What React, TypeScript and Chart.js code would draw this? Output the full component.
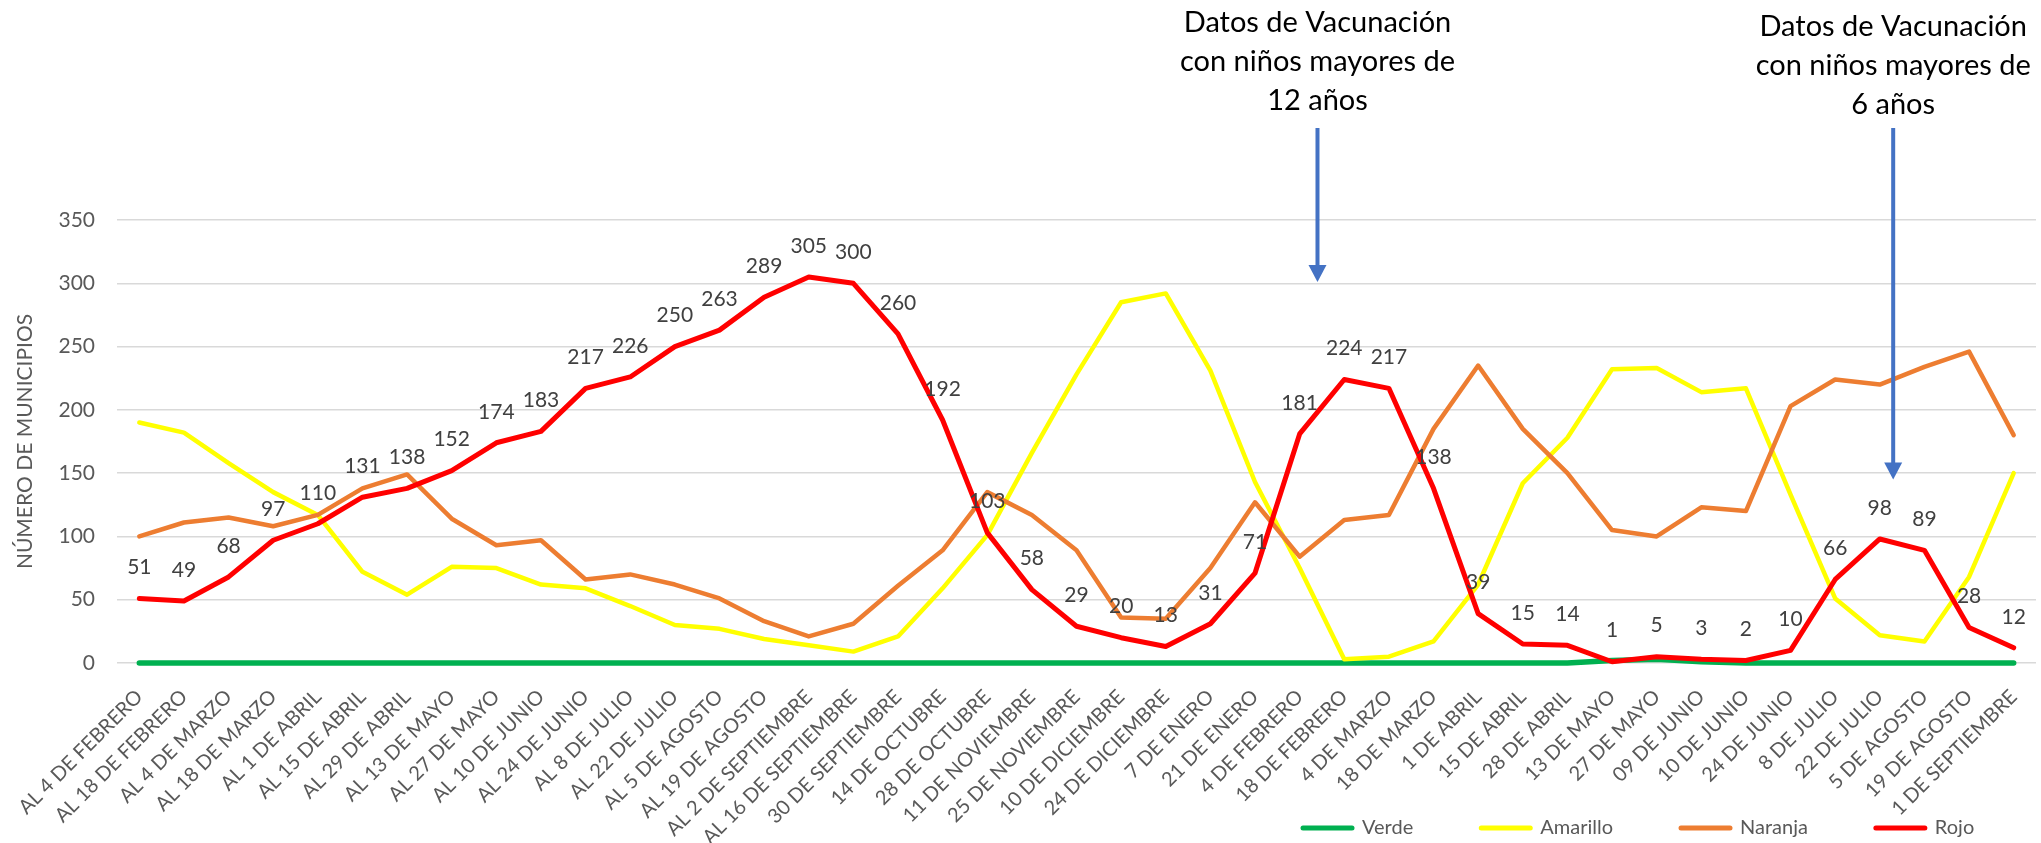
import React, { useEffect, useRef } from 'react';
import { Chart, registerables } from 'chart.js';

Chart.register(...registerables);
Chart.defaults.font.family = 'Lato';

const categories = [
  'AL 4 DE FEBRERO', 'AL 18 DE FEBRERO', 'AL 4 DE MARZO', 'AL 18 DE MARZO', 'AL 1 DE ABRIL',
  'AL 15 DE ABRIL', 'AL 29 DE ABRIL', 'AL 13 DE MAYO', 'AL 27 DE MAYO', 'AL 10 DE JUNIO',
  'AL 24 DE JUNIO', 'AL 8 DE JULIO', 'AL 22 DE JULIO', 'AL 5 DE AGOSTO', 'AL 19 DE AGOSTO',
  'AL 2 DE SEPTIEMBRE', 'AL 16 DE SEPTIEMBRE', '30 DE SEPTIEMBRE', '14 DE OCTUBRE', '28 DE OCTUBRE',
  '11 DE NOVIEMBRE', '25 DE NOVIEMBRE', '10 DE DICIEMBRE', '24 DE DICIEMBRE', '7 DE ENERO',
  '21 DE ENERO', '4 DE FEBRERO', '18 DE FEBRERO', '4 DE MARZO', '18 DE MARZO',
  '1 DE ABRIL', '15 DE ABRIL', '28 DE ABRIL', '13 DE MAYO', '27 DE MAYO',
  '09 DE JUNIO', '10 DE JUNIO', '24 DE JUNIO', '8 DE JULIO', '22 DE JULIO',
  '5 DE AGOSTO', '19 DE AGOSTO', '1 DE SEPTIEMBRE',
];

const verde = [
  0, 0, 0, 0, 0, 0, 0, 0, 0, 0,
  0, 0, 0, 0, 0, 0, 0, 0, 0, 0,
  0, 0, 0, 0, 0, 0, 0, 0, 0, 0,
  0, 0, 0, 2, 3, 1, 0, 0, 0, 0,
  0, 0, 0,
];

const amarillo = [
  190, 182, 158, 135, 117, 72, 54, 76, 75, 62,
  59, 45, 30, 27, 19, 14, 9, 21, 59, 101,
  166, 228, 285, 292, 231, 143, 75, 3, 5, 17,
  62, 142, 178, 232, 233, 214, 217, 133, 51, 22,
  17, 68, 150,
];

const naranja = [
  100, 111, 115, 108, 117, 138, 149, 114, 93, 97,
  66, 70, 62, 51, 33, 21, 31, 61, 89, 135,
  117, 89, 36, 35, 75, 127, 84, 113, 117, 185,
  235, 185, 150, 105, 100, 123, 120, 203, 224, 220,
  234, 246, 180,
];

const rojo = [
  51, 49, 68, 97, 110, 131, 138, 152, 174, 183,
  217, 226, 250, 263, 289, 305, 300, 260, 192, 103,
  58, 29, 20, 13, 31, 71, 181, 224, 217, 138,
  39, 15, 14, 1, 5, 3, 2, 10, 66, 98,
  89, 28, 12,
];

const seriesNames = ['Verde', 'Amarillo', 'Naranja', 'Rojo'];
const seriesColors = ['#00B050', '#FFFF00', '#ED7D31', '#FF0000'];

const yAxisTitle = 'NÚMERO DE MUNICIPIOS';

// annotation callouts: category position (fractional index) and arrow tip value
const note12Lines = ['Datos de Vacunación', 'con niños mayores de', '12 años'];
const note6Lines = ['Datos de Vacunación', 'con niños mayores de', '6 años'];
const noteAt = [26.4, 39.3];
const noteTipValue = [301, 145];

const redLabelsPlugin = {
  id: 'redLabels',
  afterDatasetsDraw(chart: any) {
    const idx = chart.data.datasets.findIndex((d: any) => d.label === 'Rojo');
    if (idx < 0) return;
    const meta = chart.getDatasetMeta(idx);
    const c = chart.ctx;
    c.save();
    c.font = '21px Lato';
    c.fillStyle = '#404040';
    c.textAlign = 'center';
    c.textBaseline = 'middle';
    meta.data.forEach((pt: any, i: number) => {
      c.fillText(String(rojo[i]), pt.x, pt.y - 31);
    });
    c.restore();
  },
};

const notesPlugin = {
  id: 'notes',
  afterDraw(chart: any) {
    const c = chart.ctx;
    const xs = chart.scales.x;
    const ys = chart.scales.y;
    const notes = [
      { lines: note12Lines, at: noteAt[0], tip: noteTipValue[0], textTop: 23 },
      { lines: note6Lines, at: noteAt[1], tip: noteTipValue[1], textTop: 27 },
    ];
    c.save();
    notes.forEach((n) => {
      const x = xs.getPixelForValue(n.at);
      const tipY = ys.getPixelForValue(n.tip);
      c.font = '29px Lato';
      c.fillStyle = '#000000';
      c.textAlign = 'center';
      c.textBaseline = 'middle';
      n.lines.forEach((t, i) => c.fillText(t, x, n.textTop + i * 39));
      const head = 17;
      c.strokeStyle = '#4472C4';
      c.lineWidth = 4;
      c.beginPath();
      c.moveTo(x, 128);
      c.lineTo(x, tipY - head + 2);
      c.stroke();
      c.fillStyle = '#4472C4';
      c.beginPath();
      c.moveTo(x - 9, tipY - head);
      c.lineTo(x + 9, tipY - head);
      c.lineTo(x, tipY);
      c.closePath();
      c.fill();
    });
    c.restore();
  },
};

const legendPlugin = {
  id: 'customLegend',
  afterDraw(chart: any) {
    const c = chart.ctx;
    c.save();
    c.font = '20px Lato';
    c.textBaseline = 'middle';
    c.textAlign = 'left';
    let x = 1300;
    const y = 828;
    chart.data.datasets.forEach((d: any) => {
      c.strokeStyle = d.borderColor;
      c.lineWidth = 5;
      c.lineCap = 'round';
      c.beginPath();
      c.moveTo(x + 3, y);
      c.lineTo(x + 52, y);
      c.stroke();
      c.fillStyle = '#595959';
      c.fillText(d.label, x + 62, y);
      x += 62 + c.measureText(d.label).width + 65;
    });
    c.restore();
  },
};

export default function App() {
  const ref = useRef<HTMLCanvasElement>(null);

  useEffect(() => {
    if (!ref.current) return;
    const allData = [verde, amarillo, naranja, rojo];
    const widths = [5.5, 4.5, 4.5, 5];
    const chart = new Chart(ref.current, {
      type: 'line',
      data: {
        labels: categories,
        datasets: seriesNames.map((name, i) => ({
          label: name,
          data: allData[i],
          borderColor: seriesColors[i],
          backgroundColor: seriesColors[i],
          borderWidth: widths[i],
          pointRadius: 0,
          tension: 0,
          borderCapStyle: 'round',
          borderJoinStyle: 'round',
          clip: 10,
          order: 4 - i,
        })),
      },
      options: {
        responsive: true,
        maintainAspectRatio: false,
        animation: false,
        devicePixelRatio: 1,
        layout: { padding: { left: 8, right: 5, top: 220, bottom: 0 } },
        plugins: {
          legend: { display: false },
          tooltip: { enabled: false },
        },
        scales: {
          x: {
            offset: true,
            grid: { display: false },
            border: { display: false },
            ticks: {
              autoSkip: false,
              maxRotation: 45,
              minRotation: 45,
              color: '#595959',
              font: { family: 'Lato', size: 20 },
              padding: 14,
            },
            afterFit: (s: any) => {
              s.height = 180;
              s.paddingLeft = 0;
              s.paddingRight = 0;
            },
          },
          y: {
            min: 0,
            max: 350,
            ticks: {
              stepSize: 50,
              color: '#595959',
              font: { family: 'Lato', size: 21 },
              padding: 22,
            },
            grid: { color: '#d9d9d9', lineWidth: 1.5, drawTicks: false },
            border: { display: false },
            title: {
              display: true,
              text: yAxisTitle,
              color: '#595959',
              font: { family: 'Lato', size: 21 },
              padding: { top: 5, bottom: 0 },
            },
            afterFit: (s: any) => {
              s.width = 109;
            },
          },
        },
      } as any,
      plugins: [redLabelsPlugin, notesPlugin, legendPlugin],
    });
    return () => chart.destroy();
  }, []);

  return (
    <div style={{ position: 'fixed', left: 0, top: 0, width: 2041, height: 843, background: '#ffffff' }}>
      <canvas ref={ref} />
    </div>
  );
}
